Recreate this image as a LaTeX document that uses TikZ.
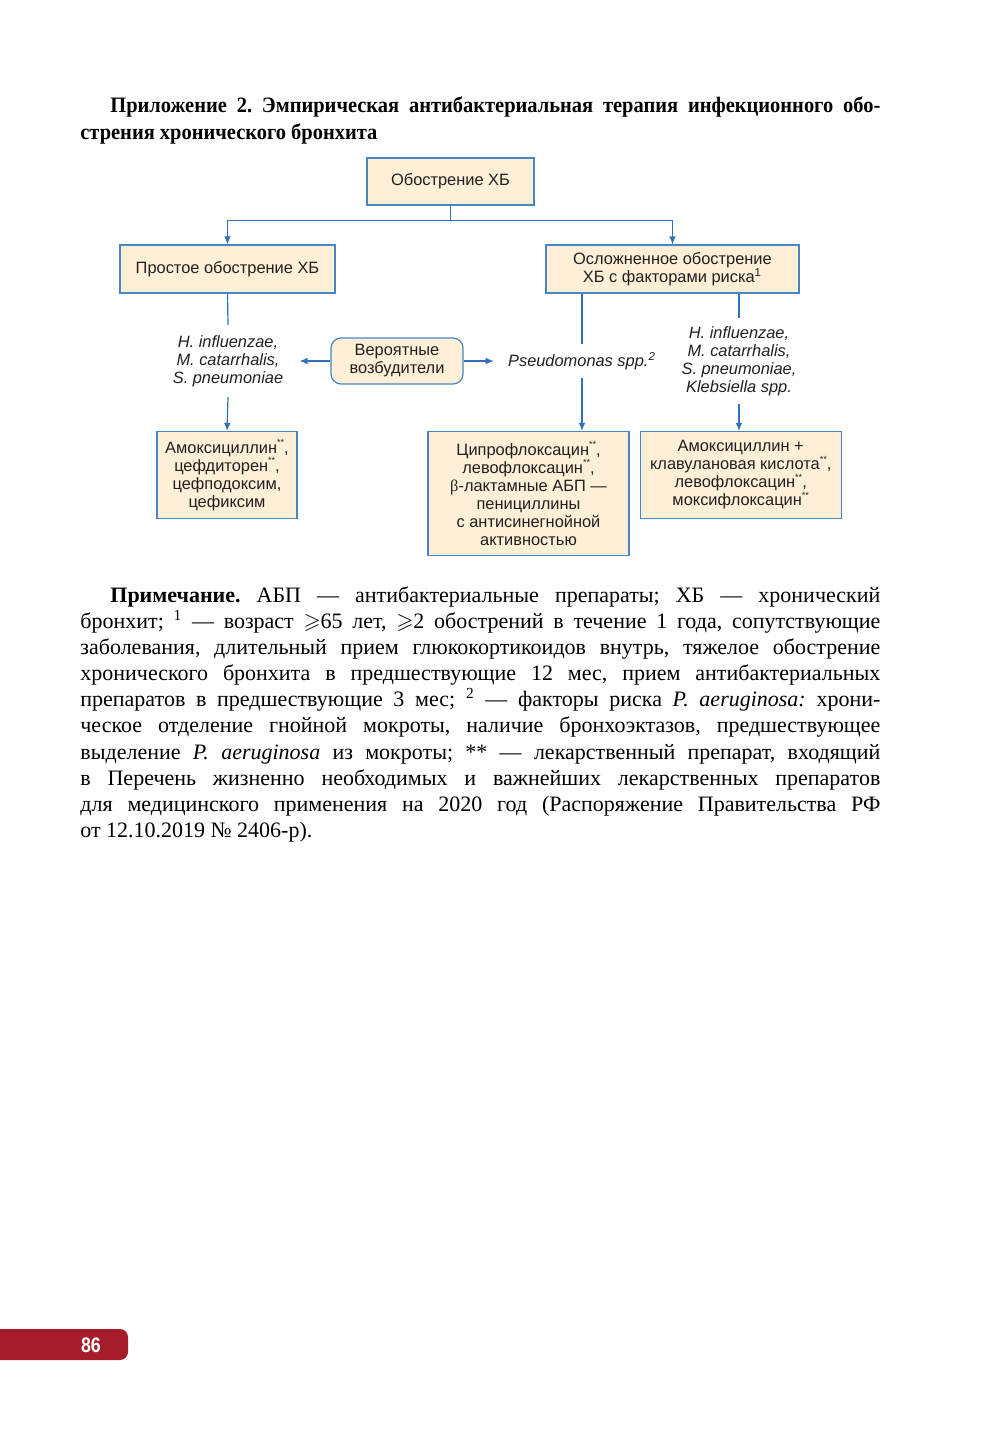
\documentclass[tikz,border=0pt]{standalone}
\usepackage{amssymb}
\usepackage{fontspec}
\setmainfont{Liberation Serif}
\setsansfont{Liberation Sans}
\newfontfamily\titlefont[FakeStretch=0.93]{Liberation Serif}
\newfontfamily\tabfont[FakeStretch=0.85]{Liberation Sans}
\usetikzlibrary{arrows.meta,positioning,calc}
\definecolor{Cream}{HTML}{FDF0D6}
\definecolor{Frame}{HTML}{4A86C5}
\definecolor{Wire}{HTML}{3470B8}
\definecolor{Ink}{HTML}{231F20}
\definecolor{PageRed}{HTML}{A51C2A}
\newcommand{\vital}{\raisebox{0.45em}{\fontsize{4.5}{5}\selectfont**}}
\tolerance=9999
\hyphenpenalty=10000
\exhyphenpenalty=10000
\frenchspacing

\begin{document}
\begin{tikzpicture}[x=0.5pt,y=-0.5pt,
  every node/.style={font=\sffamily\fontsize{8.2}{9}\selectfont,align=center,text=Ink},
  box/.style={draw=Frame,fill=Cream,line width=0.6pt,inner sep=2pt},
  bug/.style={font=\sffamily\itshape\fontsize{8.2}{9}\selectfont,inner xsep=8pt,inner ysep=5pt},
  link/.style={Wire,line width=0.6pt},
  arr/.style={link,-{Latex[length=4pt,width=3.4pt]}},
  para/.style={anchor=north west,inner sep=0pt,text width=400pt,align=justify,text=black}
]
\useasboundingbox (0,0) rectangle (1000,1429);
\fill[white] (0,0) rectangle (1000,1429);

% heading
\node[para,font=\titlefont\bfseries\fontsize{11}{13.5}\selectfont] (title) at (80,92)
  {\rule{0pt}{10pt}\hspace*{15pt}Приложение 2. Эмпирическая антибактериальная терапия инфекционного обо-\linebreak стрения хронического бронхита};

% flowchart
\node[box,minimum width=83.5pt,minimum height=23.5pt] (root) at (450.5,181.5) {Обострение ХБ};
\node[box,minimum width=107.5pt,minimum height=24pt] (simple) at (227.5,269) {Простое обострение ХБ};
\node[box,minimum width=126.5pt,minimum height=24pt] (compl) at (672.5,269) {Осложненное обострение\\ХБ с факторами риска\textsuperscript{1}};
\node[box,rounded corners=5pt,minimum width=66pt,minimum height=23pt] (agents) at (397,361) {Вероятные\\возбудители};
\node[bug] (flora) at (228,361) {H. influenzae,\\M. catarrhalis,\\S. pneumoniae};
\node[bug,inner xsep=7pt,inner ysep=4pt] (pseudo) at (582,361) {Pseudomonas spp.\textsuperscript{2}};
\node[bug,inner ysep=4pt] (floraK) at (739,361) {H. influenzae,\\M. catarrhalis,\\S. pneumoniae,\\Klebsiella spp.};
\node[box,minimum width=70pt,minimum height=43.5pt] (drugA) at (227,475)
  {Амоксициллин\vital,\\цефдиторен\vital,\\цефподоксим,\\цефиксим};
\node[box,minimum width=100.5pt,minimum height=62pt] (drugP) at (528.5,493.5)
  {Ципрофлоксацин\vital,\\левофлоксацин\vital,\\{\rmfamily β}-лактамные АБП —\\пенициллины\\с антисинегнойной\\активностью};
\node[box,minimum width=100.5pt,minimum height=43.5pt,right=5pt of drugP.north east,anchor=north west] (drugK)
  {Амоксициллин +\\клавулановая кислота\vital,\\левофлоксацин\vital,\\моксифлоксацин\vital};

\draw[link] (root.south) -- ++(0,15) coordinate (fork);
\draw[arr] (fork) -| (simple.north);
\draw[arr] (fork) -| (compl.north);
\draw[link] (simple.south) -- (flora.north);
\draw[arr] (flora.south) -- (drugA.north);
\draw[arr] (agents.west) -- (flora.east);
\draw[arr] (agents.east) -- (pseudo.west);
\draw[link] (compl.south -| pseudo) -- (pseudo.north);
\draw[arr] (pseudo.south) -- (pseudo.south |- drugP.north);
\draw[link] (compl.south -| floraK) -- (floraK.north);
\draw[arr] (floraK.south) -- (floraK.south |- drugK.north);

% note under the chart
\node[para,font=\fontsize{11}{13.05}\selectfont] (note) at (80,582)
  {\rule{0pt}{10pt}\hspace*{15pt}\textbf{Примечание.} АБП — антибактериальные препараты; ХБ — хронический\linebreak
  бронхит; \textsuperscript{1} — возраст $\geqslant$65 лет, $\geqslant$2 обострений в течение 1 года, сопутствующие\linebreak
  заболевания, длительный прием глюкокортикоидов внутрь, тяжелое обострение\linebreak
  хронического бронхита в предшествующие 12 мес, прием антибактериальных\linebreak
  препаратов в предшествующие 3 мес; \textsuperscript{2} — факторы риска \textit{P. aeruginosa:} хрони-\linebreak
  ческое отделение гнойной мокроты, наличие бронхоэктазов, предшествующее\linebreak
  выделение \textit{P. aeruginosa} из мокроты; ** — лекарственный препарат, входящий\linebreak
  в Перечень жизненно необходимых и важнейших лекарственных препаратов\linebreak
  для медицинского применения на 2020 год (Распоряжение Правительства РФ\linebreak
  от 12.10.2019 № 2406-р).};

% page tab
\fill[PageRed,rounded corners=4pt] (-20,1329) rectangle (128,1360);
\node[font=\tabfont\bfseries\fontsize{10.5}{12}\selectfont,text=white] (pagenum) at (91,1345) {86};
\end{tikzpicture}
\end{document}
